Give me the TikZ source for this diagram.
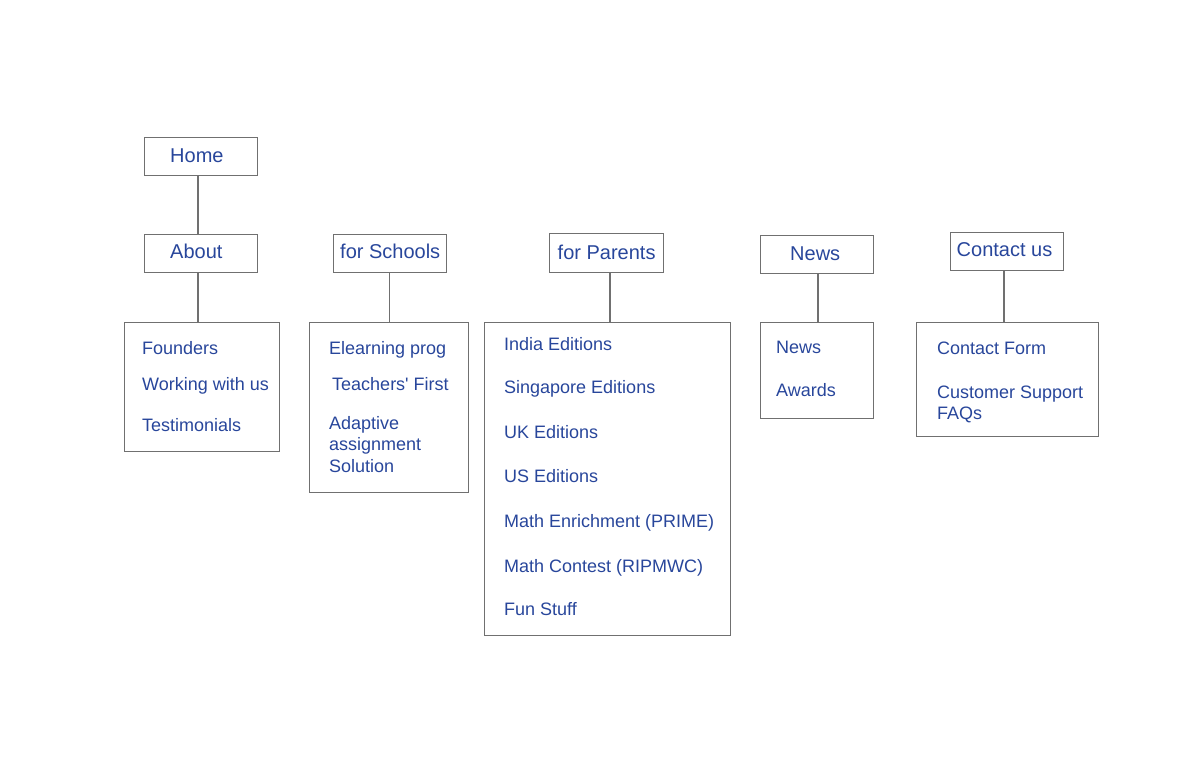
\documentclass[tikz,border=0pt]{standalone}
\usepackage{fontspec}
\setmainfont{Liberation Sans}
\definecolor{txtblue}{RGB}{40,70,155}
\definecolor{linegray}{RGB}{112,112,112}
\tikzset{
  box/.style={draw=linegray, line width=1pt, rectangle, inner sep=0pt},
  conn/.style={draw=linegray, line width=1.1pt},
  item/.style={font=\fontsize{18}{21}\selectfont, text=txtblue, inner sep=0pt, anchor=base west},
  head/.style={font=\fontsize{20}{24}\selectfont, text=txtblue, inner sep=0pt, anchor=base west}
}
\begin{document}
\begin{tikzpicture}[x=1pt,y=-1pt]
\useasboundingbox (0,0) rectangle (1200,768);
% header boxes
\node[box, minimum width=113pt, minimum height=38pt] (home) at (200.5,156) {};
\node[box, minimum width=113pt, minimum height=38pt] (about) at (200.5,253) {};
\node[box, minimum width=113pt, minimum height=38pt] (schools) at (389.5,253) {};
\node[box, minimum width=114pt, minimum height=39pt] (parents) at (606,252.5) {};
\node[box, minimum width=113pt, minimum height=38pt] (news) at (816.5,254) {};
\node[box, minimum width=113pt, minimum height=38pt] (contact) at (1006.5,251) {};
% content boxes
\node[box, minimum width=155pt, minimum height=129pt] (aboutbox) at (201.5,386.5) {};
\node[box, minimum width=159pt, minimum height=170pt] (schoolsbox) at (388.5,407) {};
\node[box, minimum width=246pt, minimum height=313pt] (parentsbox) at (607,478.5) {};
\node[box, minimum width=113pt, minimum height=96pt] (newsbox) at (816.5,370) {};
\node[box, minimum width=182pt, minimum height=114pt] (contactbox) at (1007,379) {};
% header labels
\node[head] (thome) at (170,162) {Home};
\node[head] (tabout) at (170,258.5) {About};
\node[head] (tschools) at (340,258) {for Schools};
\node[head] (tparents) at (557.5,259) {for Parents};
\node[head] (tnews) at (790,260) {News};
\node[head] (tcontact) at (956.5,256.5) {Contact us};
% connectors
\coordinate (c1) at ([xshift=-2.5pt]home.south);
\coordinate (c2) at ([xshift=-2.5pt]about.south);
\coordinate (c3) at ([xshift=-0.3pt]schools.south);
\coordinate (c4) at ([xshift=4pt]parents.south);
\coordinate (c5) at ([xshift=1.5pt]news.south);
\coordinate (c6) at ([xshift=-2.5pt]contact.south);
\draw[conn] (c1) -- (c1 |- about.north);
\draw[conn] (c2) -- (c2 |- aboutbox.north);
\draw[conn] (c3) -- (c3 |- schoolsbox.north);
\draw[conn] (c4) -- (c4 |- parentsbox.north);
\draw[conn] (c5) -- (c5 |- newsbox.north);
\draw[conn] (c6) -- (c6 |- contactbox.north);
% About items
\node[item] (a1) at (142,354) {Founders};
\node[item] (a2) at (142,390) {Working with us};
\node[item] (a3) at (142,431) {Testimonials};
% Schools items
\node[item] (s1) at (329,354) {Elearning prog};
\node[item] (s2) at (332,390) {Teachers\textquotesingle{} First};
\node[item] (s3a) at (329,429) {Adaptive};
\node[item] (s3b) at (329,450.5) {assignment};
\node[item] (s3c) at (329,472) {Solution};
% Parents items
\node[item] (p1) at (504,350) {India Editions};
\node[item] (p2) at (504,393.5) {Singapore Editions};
\node[item] (p3) at (504,438.5) {UK Editions};
\node[item] (p4) at (504,482.5) {US Editions};
\node[item] (p5) at (504,527.5) {Math Enrichment (PRIME)};
\node[item] (p6) at (504,572) {Math Contest (RIPMWC)};
\node[item] (p7) at (504,615) {Fun Stuff};
% News items
\node[item] (n1) at (776,353) {News};
\node[item] (n2) at (776,396.5) {Awards};
% Contact items
\node[item] (k1) at (937,354) {Contact Form};
\node[item] (k2a) at (937,398) {Customer Support};
\node[item] (k2b) at (937,419.5) {FAQs};
\end{tikzpicture}
\end{document}
